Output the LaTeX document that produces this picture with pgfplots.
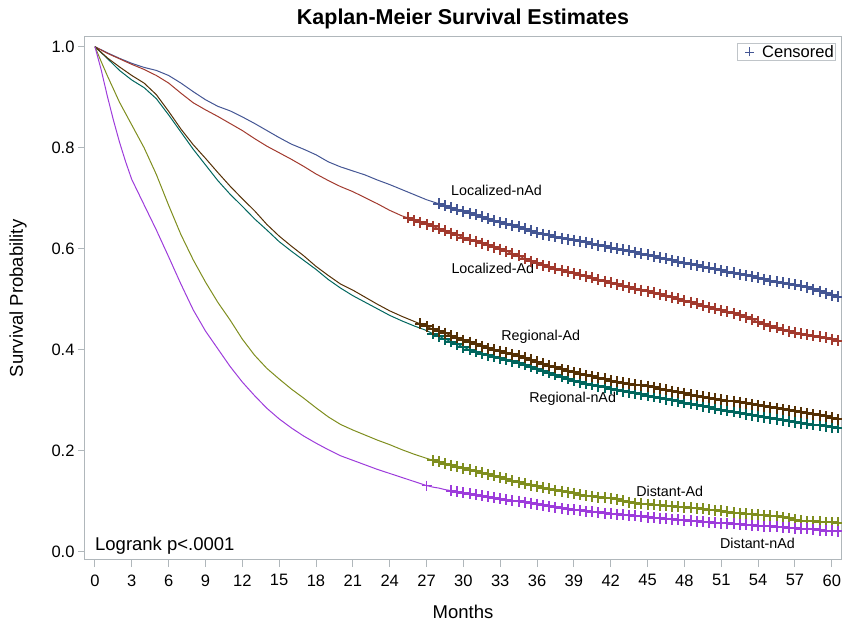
\documentclass[border=0pt]{standalone}
\usepackage{pgfplots}
\pgfplotsset{compat=1.18}
\usepackage{pgfplotstable}
\usepackage{fontspec}
\setmainfont{Liberation Sans}
\definecolor{cBlue}{HTML}{445694}
\definecolor{cRed}{HTML}{A23A2E}
\definecolor{cTeal}{HTML}{01665E}
\definecolor{cBrown}{HTML}{543005}
\definecolor{cPurple}{HTML}{9D3CDB}
\definecolor{cOlive}{HTML}{7F8E1F}
\definecolor{axgray}{HTML}{B0B7BB}

% Localized-nAd
\pgfplotstableread[row sep=\\]{t s\\
0 1.000\\ 1 0.988\\ 2 0.977\\ 3 0.967\\ 4 0.959\\ 5 0.953\\ 6 0.943\\ 7 0.928\\ 8 0.911\\ 9 0.895\\
10 0.882\\ 11 0.873\\ 12 0.861\\ 13 0.848\\ 14 0.834\\ 15 0.820\\ 16 0.807\\ 17 0.797\\ 18 0.786\\ 19 0.772\\
20 0.762\\ 21 0.754\\ 22 0.746\\ 23 0.736\\ 24 0.727\\ 25 0.717\\ 26 0.707\\ 27 0.697\\ 27.5 0.693\\
28 0.689\\ 28.5 0.685\\ 29 0.681\\ 29.5 0.677\\ 30 0.674\\ 30.5 0.670\\ 31 0.667\\ 31.5 0.663\\ 32 0.659\\ 32.5 0.655\\
33 0.652\\ 33.5 0.649\\ 34 0.646\\ 34.5 0.643\\ 35 0.640\\ 35.5 0.636\\ 36 0.632\\ 36.5 0.629\\ 37 0.627\\ 37.5 0.624\\
38 0.621\\ 38.5 0.619\\ 39 0.617\\ 39.5 0.615\\ 40 0.613\\ 40.5 0.610\\ 41 0.607\\ 41.5 0.605\\ 42 0.602\\ 42.5 0.600\\
43 0.598\\ 43.5 0.596\\ 44 0.593\\ 44.5 0.590\\ 45 0.588\\ 45.5 0.585\\ 46 0.582\\ 46.5 0.580\\ 47 0.577\\ 47.5 0.574\\
48 0.572\\ 48.5 0.569\\ 49 0.567\\ 49.5 0.564\\ 50 0.562\\ 50.5 0.560\\ 51 0.557\\ 51.5 0.554\\ 52 0.552\\ 52.5 0.549\\
53 0.547\\ 53.5 0.545\\ 54 0.542\\ 54.5 0.540\\ 55 0.537\\ 55.5 0.535\\ 56 0.533\\ 56.5 0.531\\ 57 0.529\\ 57.5 0.527\\
58 0.524\\ 58.5 0.520\\ 59 0.516\\ 59.5 0.512\\ 60 0.508\\ 60.5 0.505\\
}\locnad

% Localized-Ad
\pgfplotstableread[row sep=\\]{t s\\
0 1.000\\ 1 0.987\\ 2 0.976\\ 3 0.965\\ 4 0.955\\ 5 0.943\\ 6 0.928\\ 7 0.908\\ 8 0.889\\ 9 0.875\\
10 0.862\\ 11 0.848\\ 12 0.834\\ 13 0.818\\ 14 0.803\\ 15 0.790\\ 16 0.777\\ 17 0.763\\ 18 0.748\\ 19 0.735\\
20 0.723\\ 21 0.713\\ 22 0.701\\ 23 0.689\\ 24 0.676\\ 25 0.665\\ 25.5 0.661\\ 26 0.656\\ 26.5 0.652\\ 27 0.648\\ 27.5 0.644\\
28 0.640\\ 28.5 0.636\\ 29 0.631\\ 29.5 0.627\\ 30 0.622\\ 30.5 0.618\\ 31 0.615\\ 31.5 0.611\\ 32 0.607\\ 32.5 0.603\\
33 0.599\\ 33.5 0.595\\ 34 0.590\\ 34.5 0.586\\ 35 0.580\\ 35.5 0.575\\ 36 0.571\\ 36.5 0.567\\ 37 0.564\\ 37.5 0.560\\
38 0.557\\ 38.5 0.554\\ 39 0.551\\ 39.5 0.548\\ 40 0.545\\ 40.5 0.542\\ 41 0.539\\ 41.5 0.536\\ 42 0.533\\ 42.5 0.530\\
43 0.527\\ 43.5 0.524\\ 44 0.521\\ 44.5 0.518\\ 45 0.516\\ 45.5 0.513\\ 46 0.510\\ 46.5 0.507\\ 47 0.504\\ 47.5 0.501\\
48 0.497\\ 48.5 0.494\\ 49 0.491\\ 49.5 0.487\\ 50 0.484\\ 50.5 0.481\\ 51 0.478\\ 51.5 0.475\\ 52 0.472\\ 52.5 0.468\\
53 0.464\\ 53.5 0.460\\ 54 0.455\\ 54.5 0.450\\ 55 0.446\\ 55.5 0.443\\ 56 0.440\\ 56.5 0.437\\ 57 0.434\\ 57.5 0.432\\
58 0.430\\ 58.5 0.428\\ 59 0.426\\ 59.5 0.424\\ 60 0.421\\ 60.5 0.418\\
}\locad

% Regional-Ad
\pgfplotstableread[row sep=\\]{t s\\
0 1.000\\ 1 0.978\\ 2 0.960\\ 3 0.943\\ 4 0.928\\ 5 0.905\\ 6 0.872\\ 7 0.837\\ 8 0.806\\ 9 0.779\\
10 0.751\\ 11 0.724\\ 12 0.699\\ 13 0.675\\ 14 0.648\\ 15 0.625\\ 16 0.605\\ 17 0.586\\ 18 0.565\\ 19 0.547\\
20 0.530\\ 21 0.518\\ 22 0.504\\ 23 0.490\\ 24 0.477\\ 25 0.466\\ 26 0.456\\ 26.5 0.451\\ 27 0.446\\ 27.5 0.441\\
28 0.437\\ 28.5 0.433\\ 29 0.428\\ 29.5 0.424\\ 30 0.419\\ 30.5 0.415\\ 31 0.411\\ 31.5 0.407\\ 32 0.403\\ 32.5 0.400\\
33 0.397\\ 33.5 0.394\\ 34 0.391\\ 34.5 0.388\\ 35 0.384\\ 35.5 0.380\\ 36 0.376\\ 36.5 0.372\\ 37 0.368\\ 37.5 0.365\\
38 0.361\\ 38.5 0.358\\ 39 0.355\\ 39.5 0.352\\ 40 0.349\\ 40.5 0.347\\ 41 0.344\\ 41.5 0.342\\ 42 0.339\\ 42.5 0.337\\
43 0.335\\ 43.5 0.333\\ 44 0.331\\ 44.5 0.330\\ 45 0.328\\ 45.5 0.326\\ 46 0.323\\ 46.5 0.321\\ 47 0.318\\ 47.5 0.316\\
48 0.314\\ 48.5 0.311\\ 49 0.309\\ 49.5 0.307\\ 50 0.305\\ 50.5 0.303\\ 51 0.301\\ 51.5 0.299\\ 52 0.298\\ 52.5 0.296\\
53 0.294\\ 53.5 0.292\\ 54 0.290\\ 54.5 0.288\\ 55 0.286\\ 55.5 0.284\\ 56 0.282\\ 56.5 0.280\\ 57 0.278\\ 57.5 0.276\\
58 0.274\\ 58.5 0.272\\ 59 0.270\\ 59.5 0.268\\ 60 0.265\\ 60.5 0.262\\
}\regad

% Regional-nAd
\pgfplotstableread[row sep=\\]{t s\\
0 1.000\\ 1 0.977\\ 2 0.953\\ 3 0.934\\ 4 0.919\\ 5 0.897\\ 6 0.865\\ 7 0.831\\ 8 0.797\\ 9 0.766\\
10 0.735\\ 11 0.708\\ 12 0.684\\ 13 0.659\\ 14 0.637\\ 15 0.614\\ 16 0.595\\ 17 0.577\\ 18 0.559\\ 19 0.539\\
20 0.522\\ 21 0.507\\ 22 0.494\\ 23 0.481\\ 24 0.468\\ 25 0.457\\ 26 0.447\\ 27 0.438\\ 27.5 0.432\\
28 0.427\\ 28.5 0.421\\ 29 0.416\\ 29.5 0.411\\ 30 0.405\\ 30.5 0.400\\ 31 0.396\\ 31.5 0.392\\ 32 0.389\\ 32.5 0.386\\
33 0.383\\ 33.5 0.380\\ 34 0.377\\ 34.5 0.374\\ 35 0.370\\ 35.5 0.366\\ 36 0.362\\ 36.5 0.358\\ 37 0.354\\ 37.5 0.350\\
38 0.346\\ 38.5 0.342\\ 39 0.339\\ 39.5 0.336\\ 40 0.333\\ 40.5 0.331\\ 41 0.328\\ 41.5 0.326\\ 42 0.323\\ 42.5 0.321\\
43 0.318\\ 43.5 0.316\\ 44 0.314\\ 44.5 0.312\\ 45 0.309\\ 45.5 0.307\\ 46 0.305\\ 46.5 0.302\\ 47 0.300\\ 47.5 0.298\\
48 0.295\\ 48.5 0.293\\ 49 0.291\\ 49.5 0.288\\ 50 0.286\\ 50.5 0.283\\ 51 0.281\\ 51.5 0.279\\ 52 0.277\\ 52.5 0.275\\
53 0.272\\ 53.5 0.270\\ 54 0.268\\ 54.5 0.266\\ 55 0.264\\ 55.5 0.262\\ 56 0.260\\ 56.5 0.258\\ 57 0.256\\ 57.5 0.254\\
58 0.253\\ 58.5 0.251\\ 59 0.250\\ 59.5 0.248\\ 60 0.246\\ 60.5 0.245\\
}\regnad

% Distant-Ad
\pgfplotstableread[row sep=\\]{t s\\
0 1.000\\ 0.5 0.971\\ 1 0.943\\ 2 0.890\\ 3 0.845\\ 4 0.800\\ 5 0.747\\ 6 0.686\\ 7 0.628\\ 8 0.578\\ 9 0.534\\
10 0.494\\ 11 0.459\\ 12 0.421\\ 13 0.389\\ 14 0.363\\ 15 0.342\\ 16 0.322\\ 17 0.304\\ 18 0.285\\ 19 0.267\\
20 0.252\\ 21 0.241\\ 22 0.231\\ 23 0.221\\ 24 0.212\\ 25 0.202\\ 26 0.193\\ 27 0.185\\ 27.5 0.181\\
28 0.178\\ 28.5 0.174\\ 29 0.171\\ 29.5 0.168\\ 30 0.165\\ 30.5 0.162\\ 31 0.159\\ 31.5 0.156\\ 32 0.153\\ 32.5 0.150\\
33 0.147\\ 33.5 0.144\\ 34 0.141\\ 34.5 0.138\\ 35 0.135\\ 35.5 0.132\\ 36 0.130\\ 36.5 0.127\\ 37 0.125\\ 37.5 0.122\\
38 0.120\\ 38.5 0.118\\ 39 0.116\\ 39.5 0.113\\ 40 0.111\\ 40.5 0.110\\ 41 0.108\\ 41.5 0.107\\ 42 0.106\\ 42.5 0.104\\
43 0.101\\ 43.5 0.098\\ 44 0.096\\ 44.5 0.095\\ 45 0.094\\ 45.5 0.093\\ 46 0.092\\ 46.5 0.091\\ 47 0.090\\ 47.5 0.089\\
48 0.088\\ 48.5 0.087\\ 49 0.086\\ 49.5 0.085\\ 50 0.083\\ 50.5 0.082\\ 51 0.081\\ 51.5 0.079\\ 52 0.077\\ 52.5 0.076\\
53 0.075\\ 53.5 0.074\\ 54 0.073\\ 54.5 0.072\\ 55 0.071\\ 55.5 0.070\\ 56 0.068\\ 56.5 0.066\\ 57 0.063\\ 57.5 0.061\\
58 0.060\\ 58.5 0.060\\ 59 0.059\\ 59.5 0.058\\ 60 0.058\\ 60.5 0.057\\
}\disad

% Distant-nAd
\pgfplotstableread[row sep=\\]{t s\\
0 1.000\\ 0.5 0.955\\ 1 0.903\\ 1.5 0.855\\ 2 0.811\\ 2.5 0.772\\ 3 0.737\\ 4 0.687\\ 5 0.637\\ 6 0.584\\ 7 0.530\\ 8 0.479\\ 9 0.437\\
10 0.402\\ 11 0.367\\ 12 0.336\\ 13 0.309\\ 14 0.284\\ 15 0.263\\ 16 0.245\\ 17 0.229\\ 18 0.215\\ 19 0.202\\
20 0.190\\ 21 0.181\\ 22 0.172\\ 23 0.163\\ 24 0.155\\ 25 0.147\\ 26 0.139\\ 27 0.131\\ 27.5 0.128\\
28 0.126\\ 28.5 0.123\\ 29 0.121\\ 29.5 0.119\\ 30 0.117\\ 30.5 0.115\\ 31 0.113\\ 31.5 0.111\\ 32 0.109\\ 32.5 0.107\\
33 0.105\\ 33.5 0.103\\ 34 0.101\\ 34.5 0.100\\ 35 0.098\\ 35.5 0.096\\ 36 0.094\\ 36.5 0.092\\ 37 0.090\\ 37.5 0.088\\
38 0.086\\ 38.5 0.084\\ 39 0.083\\ 39.5 0.082\\ 40 0.080\\ 40.5 0.079\\ 41 0.078\\ 41.5 0.076\\ 42 0.075\\ 42.5 0.074\\
43 0.073\\ 43.5 0.072\\ 44 0.071\\ 44.5 0.070\\ 45 0.068\\ 45.5 0.067\\ 46 0.066\\ 46.5 0.065\\ 47 0.064\\ 47.5 0.063\\
48 0.062\\ 48.5 0.061\\ 49 0.060\\ 49.5 0.059\\ 50 0.058\\ 50.5 0.057\\ 51 0.056\\ 51.5 0.056\\ 52 0.055\\ 52.5 0.054\\
53 0.053\\ 53.5 0.052\\ 54 0.051\\ 54.5 0.050\\ 55 0.050\\ 55.5 0.049\\ 56 0.048\\ 56.5 0.047\\ 57 0.046\\ 57.5 0.045\\
58 0.045\\ 58.5 0.044\\ 59 0.043\\ 59.5 0.042\\ 60 0.042\\ 60.5 0.041\\
}\disnad

\pgfplotsset{cens/.style={only marks, mark=+, mark size=5.5pt, line width=2pt, forget plot}}

\begin{document}
\begin{tikzpicture}
\begin{axis}[
  scale only axis,
  width=756pt, height=523.3pt,
  xmin=-0.81, xmax=60.75,
  ymin=-0.0164, ymax=1.0198,
  xtick={0,3,...,60},
  ytick={0,0.2,0.4,0.6,0.8,1.0},
  yticklabel style={/pgf/number format/.cd, fixed, fixed zerofill, precision=1},
  xticklabel style={yshift=-4pt},
  /pgf/number format/assume math mode=true,
  ticklabel style={font=\fontsize{16.5}{18}\selectfont, black},
  tick align=outside,
  xtick pos=bottom, ytick pos=left,
  major tick length=7pt,
  tick style={axgray, line width=1pt},
  axis line style={axgray, line width=1pt},
  title={\textbf{Kaplan-Meier Survival Estimates}},
  title style={font=\fontsize{21.5}{24}\selectfont, at={(axis description cs:0.5,1)}, anchor=base, yshift=6.5pt},
  xlabel={Months},
  xlabel style={font=\fontsize{18.5}{20}\selectfont, at={(axis description cs:0.5,0)}, anchor=base, yshift=-59pt},
  ylabel={Survival Probability},
  ylabel style={font=\fontsize{18.5}{20}\selectfont, at={(axis description cs:-0.0886,0.5)}, anchor=center, rotate=0},
  legend style={at={(axis description cs:0.9934,0.988)}, anchor=north east, draw=axgray!80, line width=0.6pt, inner sep=0.5pt, font=\fontsize{16.5}{18}\selectfont, legend cell align=left, nodes={inner sep=1.5pt}},
]
\addlegendimage{legend image code/.code={\path[draw=none,fill=none] (-12pt,0pt) -- (7pt,0pt); \draw[cBlue, line width=0.9pt] (-4.5pt,0pt) -- (4.5pt,0pt) (0pt,-4.5pt) -- (0pt,4.5pt);}}
\addlegendentry{\hspace{4pt}Censored\hspace{1pt}}

% lines
\addplot[cBlue, line width=1pt, forget plot] table {\locnad};
\addplot[cRed, line width=1pt, forget plot] table {\locad};
\addplot[cTeal, line width=1pt, forget plot] table {\regnad};
\addplot[cBrown, line width=1pt, forget plot] table {\regad};
\addplot[cOlive, line width=1pt, forget plot] table {\disad};
\addplot[cPurple, line width=1pt, forget plot] table {\disnad};

% censored marks
\addplot[cBlue, cens, restrict x to domain=27.8:61] table {\locnad};
\addplot[cRed, cens, restrict x to domain=25.4:61] table {\locad};
\addplot[cTeal, cens, restrict x to domain=27.4:61] table {\regnad};
\addplot[cBrown, cens, restrict x to domain=26.4:61] table {\regad};
\addplot[cOlive, cens, restrict x to domain=27.4:61] table {\disad};
\addplot[cPurple, cens, restrict x to domain=28.9:61] table {\disnad};
\addplot[cPurple, only marks, mark=+, mark size=5pt, line width=1pt, forget plot, restrict x to domain=26.9:27.1] table {\disnad};

% curve labels
\node[font=\fontsize{14.3}{16}\selectfont] at (axis cs:32.7,0.716) {Localized-nAd};
\node[font=\fontsize{14.3}{16}\selectfont] at (axis cs:32.4,0.561) {Localized-Ad};
\node[font=\fontsize{14.3}{16}\selectfont] at (axis cs:36.3,0.425) {Regional-Ad};
\node[font=\fontsize{14.3}{16}\selectfont] at (axis cs:38.9,0.302) {Regional-nAd};
\node[font=\fontsize{14.3}{16}\selectfont] at (axis cs:46.8,0.120) {Distant-Ad};
\node[font=\fontsize{14.3}{16}\selectfont] at (axis cs:53.95,0.017) {Distant-nAd};
\node[font=\fontsize{18.5}{20}\selectfont, anchor=base west, inner sep=0pt] at (axis cs:0,0.0034) {Logrank p<.0001};
\end{axis}
\pgfresetboundingbox
\path[use as bounding box] ([xshift=-85pt,yshift=-67pt]current axis.south west) rectangle ([xshift=1pt,yshift=36.7pt]current axis.north east);
\end{tikzpicture}
\end{document}
